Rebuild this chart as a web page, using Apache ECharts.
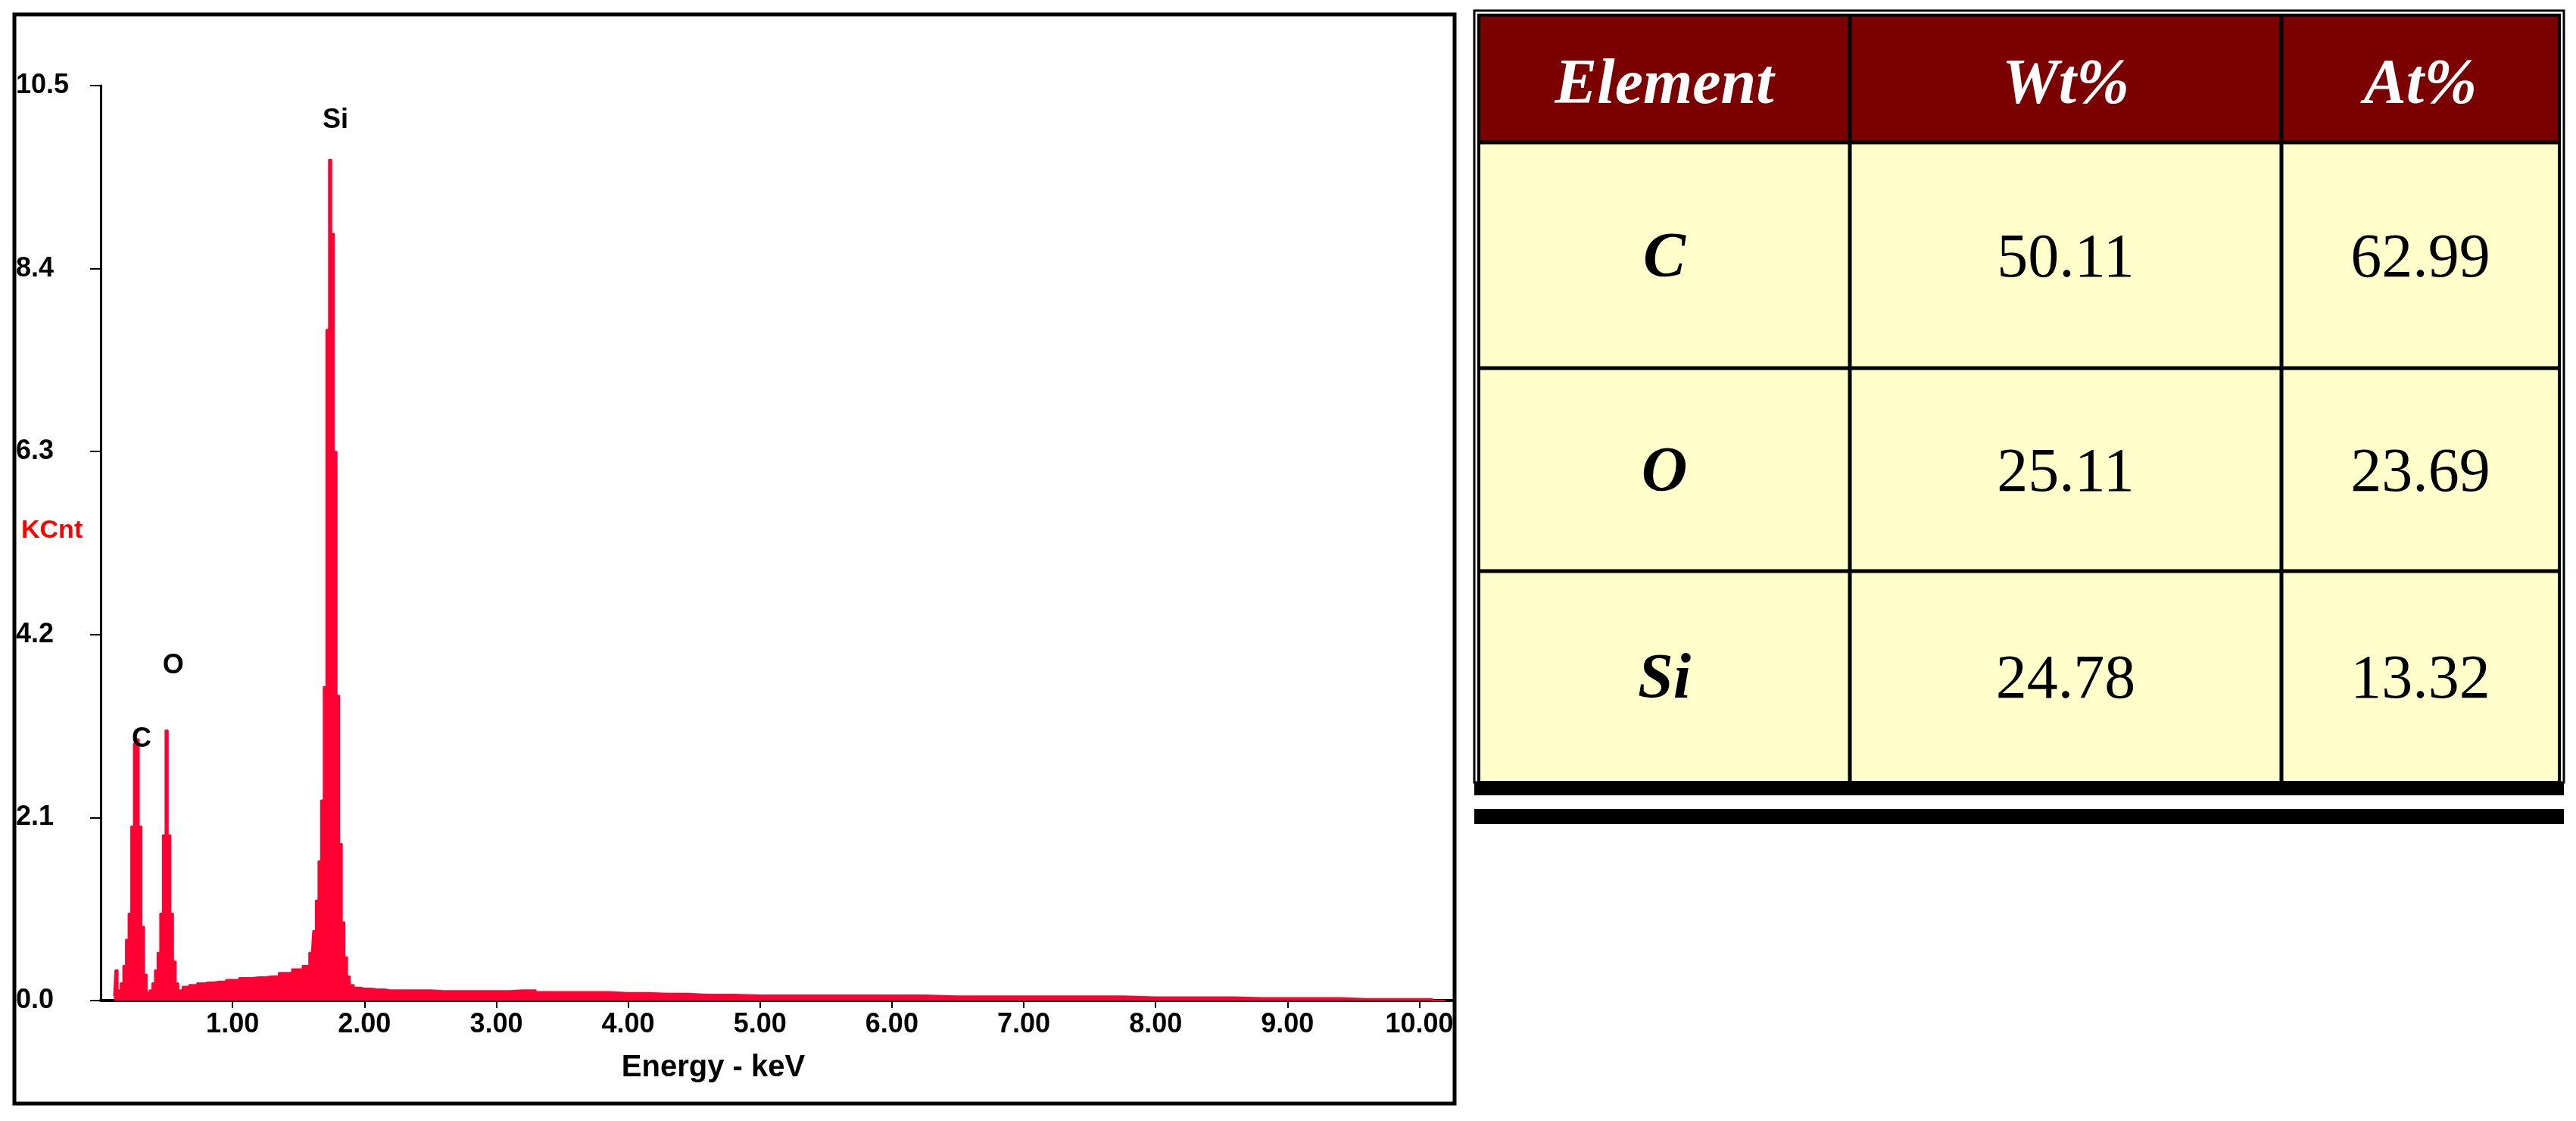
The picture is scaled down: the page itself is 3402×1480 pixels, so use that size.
<!DOCTYPE html>
<html>
<head>
<meta charset="utf-8">
<script src="https://cdn.jsdelivr.net/npm/echarts@6/dist/echarts.min.js"></script>
<style>html,body{margin:0;padding:0;background:#fff}#main{width:3402px;height:1480px}</style>
</head>
<body>
<div id="main"></div>
<script>
// spectrum, energy in keV and counts in KCnt
const energy = [
  0.10, 0.12, 0.14, 0.16, 0.18, 0.20, 0.22, 0.24, 0.26, 0.28, 0.30, 0.32, 0.34, 0.36, 0.38,
  0.40, 0.42, 0.44, 0.46, 0.48, 0.50, 0.52, 0.54, 0.56, 0.58, 0.60, 0.64, 0.70, 0.76, 0.82,
  0.90, 1.00, 1.10, 1.20, 1.30, 1.40, 1.50, 1.56, 1.60, 1.62, 1.64, 1.66, 1.68, 1.70, 1.72,
  1.74, 1.76, 1.78, 1.80, 1.82, 1.84, 1.86, 1.88, 1.90, 1.94, 2.00, 2.10, 2.20, 2.40, 2.60,
  2.80, 3.00, 3.20, 3.40, 3.70, 4.00, 4.30, 4.60, 5.00, 5.50, 6.00, 6.50, 7.00, 7.50, 8.00,
  8.40, 8.80, 9.20, 9.60, 10.00, 10.20
];
const counts = [
  0.05, 0.35, 0.12, 0.20, 0.40, 0.70, 1.00, 2.00, 2.95, 3.00, 2.00, 0.85, 0.30, 0.10, 0.12,
  0.20, 0.35, 0.55, 1.00, 1.90, 3.10, 1.90, 1.00, 0.45, 0.20, 0.12, 0.16, 0.18, 0.20, 0.21,
  0.22, 0.24, 0.26, 0.27, 0.28, 0.32, 0.36, 0.40, 0.55, 0.80, 1.15, 1.60, 2.30, 3.60, 7.70,
  9.65, 8.80, 6.30, 3.50, 1.80, 0.90, 0.50, 0.28, 0.18, 0.15, 0.14, 0.13, 0.12, 0.12, 0.11,
  0.11, 0.11, 0.12, 0.10, 0.10, 0.09, 0.08, 0.07, 0.06, 0.06, 0.06, 0.05, 0.05, 0.05, 0.04,
  0.04, 0.03, 0.03, 0.02, 0.02, 0.00
];
const peakLabels = [
  { name: 'C', x: 0.31, y: 3.0 },
  { name: 'O', x: 0.55, y: 3.84 },
  { name: 'Si', x: 1.78, y: 10.1 }
];
const tableHeader = ['Element', 'Wt%', 'At%'];
const tableElements = ['C', 'O', 'Si'];
const tableWt = ['50.11', '25.11', '24.78'];
const tableAt = ['62.99', '23.69', '13.32'];

const chart = echarts.init(document.getElementById('main'));

// table drawn with graphic elements
const colX = [1953, 2443, 3013, 3380];
const rowY = [20, 188, 486, 754, 1033];
const tableGraphics = [];
tableGraphics.push({ type: 'rect', shape: { x: colX[0], y: rowY[0], width: colX[3] - colX[0], height: rowY[1] - rowY[0] }, style: { fill: '#7b0000' } });
tableGraphics.push({ type: 'rect', shape: { x: colX[0], y: rowY[1], width: colX[3] - colX[0], height: rowY[4] - rowY[1] }, style: { fill: '#ffffcc' } });
tableGraphics.push({ type: 'rect', shape: { x: colX[0] - 6, y: rowY[0] - 6, width: colX[3] - colX[0] + 12, height: rowY[4] - rowY[0] + 6 }, style: { fill: 'none', stroke: '#000', lineWidth: 3 } });
tableGraphics.push({ type: 'rect', shape: { x: colX[0], y: rowY[0], width: colX[3] - colX[0], height: rowY[4] - rowY[0] }, style: { fill: 'none', stroke: '#000', lineWidth: 4 } });
[1, 2].forEach(i => tableGraphics.push({ type: 'line', shape: { x1: colX[i], y1: rowY[0], x2: colX[i], y2: rowY[4] }, style: { stroke: '#000', lineWidth: 5 } }));
[1, 2, 3].forEach(i => tableGraphics.push({ type: 'line', shape: { x1: colX[0], y1: rowY[i], x2: colX[3], y2: rowY[i] }, style: { stroke: '#000', lineWidth: 5 } }));
tableGraphics.push({ type: 'rect', shape: { x: colX[0] - 6, y: 1033, width: colX[3] - colX[0] + 12, height: 17 }, style: { fill: '#000' } });
tableGraphics.push({ type: 'rect', shape: { x: colX[0] - 6, y: 1068, width: colX[3] - colX[0] + 12, height: 20 }, style: { fill: '#000' } });
tableHeader.forEach((t, i) => tableGraphics.push({
  type: 'text', x: (colX[i] + colX[i + 1]) / 2, y: (rowY[0] + rowY[1]) / 2 + 10,
  style: { text: t, fill: '#fff', font: 'italic bold 84px "Liberation Serif", serif', align: 'center', verticalAlign: 'middle' }
}));
tableElements.forEach((el, r) => {
  const cy = (rowY[r + 1] + rowY[r + 2]) / 2 + 6;
  [el, tableWt[r], tableAt[r]].forEach((t, c) => tableGraphics.push({
    type: 'text', x: (colX[c] + colX[c + 1]) / 2, y: cy,
    style: { text: t, fill: '#000', font: (c === 0 ? 'italic bold 84px' : '82px') + ' "Liberation Serif", serif', align: 'center', verticalAlign: 'middle' }
  }));
});

const axisFont = { fontFamily: 'Liberation Sans', fontWeight: 'bold', fontSize: 36, color: '#000' };

const option = {
  animation: false,
  backgroundColor: '#fff',
  grid: { left: 133, right: 1484, top: 113, bottom: 159 },
  xAxis: {
    type: 'value', min: 0, max: 10.25, interval: 1,
    axisLine: { lineStyle: { color: '#000', width: 4 } },
    axisTick: { show: true, length: 10, lineStyle: { color: '#000', width: 2 } },
    axisLabel: Object.assign({ formatter: v => v.toFixed(2), showMinLabel: false, showMaxLabel: false, margin: 14 }, axisFont),
    splitLine: { show: false }
  },
  yAxis: {
    type: 'value', min: 0, max: 10.5, interval: 2.1,
    axisLine: { show: true, lineStyle: { color: '#000', width: 3 } },
    axisTick: { show: true, length: 14, lineStyle: { color: '#000', width: 2 } },
    axisLabel: Object.assign({ formatter: v => v.toFixed(1), margin: 112, align: 'left' }, axisFont),
    splitLine: { show: false }
  },
  series: [{
    type: 'line',
    step: 'middle',
    symbol: 'none',
    data: energy.map((e, i) => [e, counts[i]]),
    lineStyle: { color: '#ff0033', width: 2 },
    areaStyle: { color: '#ff0033', opacity: 1 },
    markPoint: {
      symbol: 'circle', symbolSize: 0,
      label: { show: true, position: 'inside', formatter: p => p.name, fontFamily: 'Liberation Sans', fontWeight: 'bold', fontSize: 36, color: '#000' },
      data: peakLabels.map(p => ({ name: p.name, coord: [p.x, p.y] }))
    }
  }],
  graphic: [
    { type: 'rect', shape: { x: 19, y: 19, width: 1902, height: 1438 }, style: { fill: 'none', stroke: '#000', lineWidth: 5 } },
    { type: 'text', x: 28, y: 701, style: { text: 'KCnt', fill: '#ff0000', font: 'bold 34px "Liberation Sans", sans-serif', verticalAlign: 'middle' } },
    { type: 'text', x: 942, y: 1410, style: { text: 'Energy - keV', fill: '#000', font: 'bold 40px "Liberation Sans", sans-serif', align: 'center', verticalAlign: 'middle' } }
  ].concat(tableGraphics)
};

chart.setOption(option);
</script>
</body>
</html>
